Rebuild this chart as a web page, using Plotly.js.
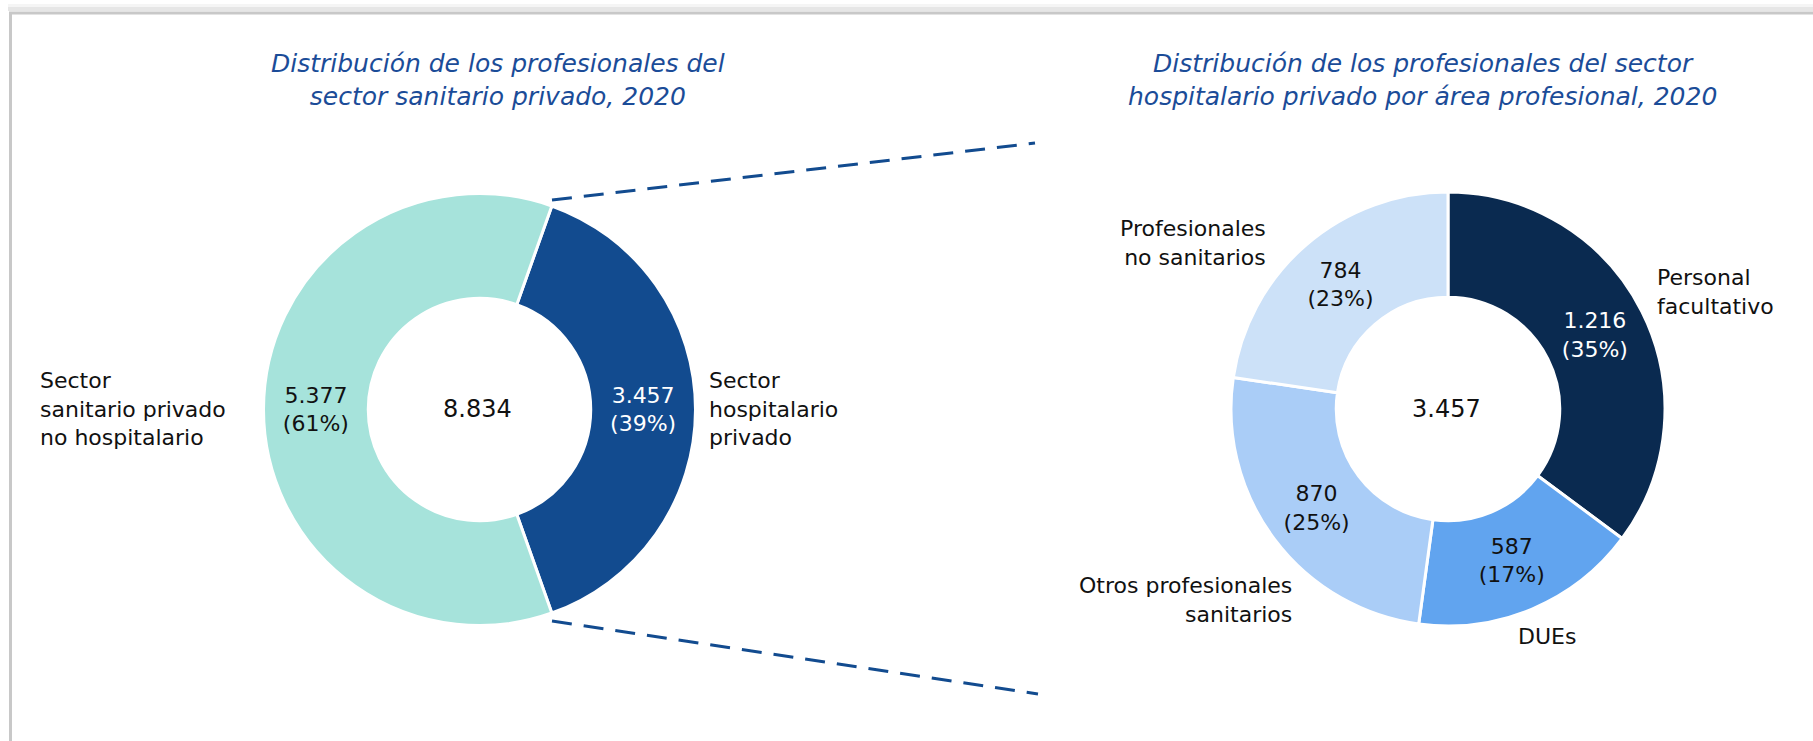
<!DOCTYPE html>
<html>
<head>
<meta charset="utf-8">
<script src="https://cdn.plot.ly/plotly-3.0.1.min.js"></script>
<style>
  html, body { margin: 0; padding: 0; background: #ffffff; }
  #chart { width: 1813px; height: 741px; }
</style>
</head>
<body>
<div id="chart"></div>
<script>
// left donut: private health sector
const sectorLabels = ["Sector hospitalario privado", "Sector sanitario privado no hospitalario"];
const sectorValues = [3457, 5377];
const sectorColors = ["#124b8f", "#a6e3db"];
const sectorTextColors = ["#ffffff", "#111111"];

// right donut: hospital sector by professional area
const areaLabels = ["Personal facultativo", "DUEs", "Otros profesionales sanitarios", "Profesionales no sanitarios"];
const areaValues = [1216, 587, 870, 784];
const areaColors = ["#0a2a50", "#61a4ef", "#aacdf7", "#cce1f8"];
const areaTextColors = ["#ffffff", "#111111", "#111111", "#111111"];

const titleLeft = "Distribución de los profesionales del<br>sector sanitario privado, 2020";
const titleRight = "Distribución de los profesionales del sector<br>hospitalario privado por área profesional, 2020";

const W = 1813, H = 741;
const px = x => x / W;
const py = y => 1 - y / H;
const FONT = "'DejaVu Sans', Verdana, sans-serif";
const fmt = n => n.toLocaleString("de-DE");

const sectorTotal = sectorValues.reduce((a, b) => a + b, 0);
const areaTotal = areaValues.reduce((a, b) => a + b, 0);

// first slice centred on 3 o'clock
const leftRotation = 90 - 180 * sectorValues[0] / sectorTotal;

const pieCommon = {
  type: "pie",
  hole: 0.515,
  sort: false,
  direction: "clockwise",
  textposition: "inside",
  insidetextorientation: "horizontal",
  texttemplate: "%{value:,.0f}<br>(%{percent:.0%})",
  hoverinfo: "none",
  showlegend: false
};

const traces = [
  {
    ...pieCommon,
    labels: sectorLabels,
    values: sectorValues,
    rotation: leftRotation,
    marker: { colors: sectorColors, line: { color: "#ffffff", width: 3 } },
    textfont: { family: FONT, size: 22, color: sectorTextColors },
    domain: { x: [px(263.5), px(695.5)], y: [py(625.5), py(193.5)] }
  },
  {
    ...pieCommon,
    labels: areaLabels,
    values: areaValues,
    rotation: 0,
    marker: { colors: areaColors, line: { color: "#ffffff", width: 3 } },
    textfont: { family: FONT, size: 22, color: areaTextColors },
    domain: { x: [px(1231), px(1665)], y: [py(626), py(192)] }
  }
];

function note(text, x, y, xanchor, size, extra) {
  return Object.assign({
    text: text,
    x: px(x), y: py(y),
    xref: "paper", yref: "paper",
    xanchor: xanchor, yanchor: "middle",
    align: xanchor === "center" ? "center" : xanchor,
    showarrow: false,
    font: { family: FONT, size: size, color: "#111111" }
  }, extra || {});
}

const titleFont = { family: FONT, size: 25, color: "#1b4c98" };

const annotations = [
  note("<i>" + titleLeft + "</i>", 498, 80, "center", 25, { font: titleFont }),
  note("<i>" + titleRight + "</i>", 1422, 80, "center", 25, { font: titleFont }),
  note(fmt(sectorTotal), 477, 409, "center", 24),
  note(fmt(areaTotal), 1446, 409, "center", 24),
  note("Sector<br>sanitario privado<br>no hospitalario", 38, 409, "left", 22),
  note("Sector<br>hospitalario<br>privado", 707, 409, "left", 22),
  note("Profesionales<br>no sanitarios", 1268, 243, "right", 22),
  note("Personal<br>facultativo", 1655, 292, "left", 22),
  note("Otros profesionales<br>sanitarios", 1294, 600, "right", 22),
  note("DUEs", 1547, 636, "center", 22)
];

const shapes = [
  // card frame with soft shadow on top
  { type: "rect", xref: "paper", yref: "paper", x0: px(8), x1: 1, y0: py(11), y1: py(4), fillcolor: "rgba(0,0,0,0.04)", line: { width: 0 }, layer: "below" },
  { type: "rect", xref: "paper", yref: "paper", x0: px(8), x1: 1, y0: py(11), y1: py(7), fillcolor: "rgba(0,0,0,0.06)", line: { width: 0 }, layer: "below" },
  { type: "line", xref: "paper", yref: "paper", x0: px(9), x1: 1, y0: py(13), y1: py(13), line: { color: "#c8c8c8", width: 3 } },
  { type: "line", xref: "paper", yref: "paper", x0: px(10.5), x1: px(10.5), y0: py(12), y1: 0, line: { color: "#c8c8c8", width: 3 } },
  // zoom connectors
  { type: "line", xref: "paper", yref: "paper", x0: px(552), y0: py(200), x1: px(1035), y1: py(143), line: { color: "#124b8f", width: 3, dash: "20px,12px" } },
  { type: "line", xref: "paper", yref: "paper", x0: px(552), y0: py(621), x1: px(1038), y1: py(694), line: { color: "#124b8f", width: 3, dash: "20px,12px" } }
];

const layout = {
  width: W,
  height: H,
  margin: { t: 0, b: 0, l: 0, r: 0 },
  paper_bgcolor: "#ffffff",
  separators: ",.",
  font: { family: FONT },
  annotations: annotations,
  shapes: shapes
};

Plotly.newPlot("chart", traces, layout, { displayModeBar: false, staticPlot: true });
</script>
</body>
</html>
